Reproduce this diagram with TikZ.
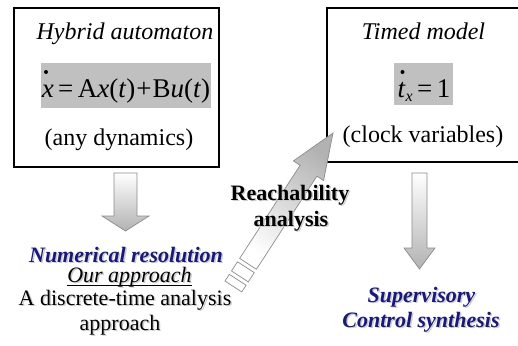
\documentclass[tikz,border=0pt]{standalone}
\usepackage{fontspec}
\setmainfont{Liberation Serif}
\usetikzlibrary{calc}
\definecolor{arrowedge}{RGB}{140,140,140}
\definecolor{navyblue}{RGB}{25,25,125}
\definecolor{shadowgray}{RGB}{205,205,205}
\definecolor{eqgray}{RGB}{192,192,192}
\definecolor{headgray}{RGB}{178,178,178}
\newcommand\shnode[4]{%
  \node[#3, text=shadowgray] (#1-sh) at ($(#2)+(1.5,1.5)$) {#4};
  \node[#3] (#1) at (#2) {#4};}
\begin{document}
\begin{tikzpicture}[x=1pt,y=-1pt,
  box/.style={draw=black, line width=1.2pt, inner sep=0pt},
  eqbg/.style={fill=eqgray, inner sep=0pt},
  big/.style={font=\fontsize{24}{28}\selectfont, inner sep=0pt, anchor=base},
  mid/.style={font=\fontsize{22}{26}\selectfont, inner sep=0pt, anchor=base},
  eqfont/.style={font=\fontsize{27}{30}\selectfont, inner sep=0pt, anchor=base},
  blockarrow/.style={draw=arrowedge, line width=0.7pt, line join=miter},
  dotmark/.style={circle, fill=black, inner sep=0pt, minimum size=4pt}
]
\useasboundingbox (0,0) rectangle (518,345);
\clip (0,0) rectangle (518,345);

% boxes
\node[box, minimum width=205, minimum height=159] (hyb) at (116.5,87.5) {};
\node[box, minimum width=203, minimum height=154] (tim) at (428.5,85) {};

% hybrid box content
\node[big] (hybtitle) at (125,40) {\textit{Hybrid automaton}};
\node[eqbg, minimum width=170, minimum height=45] (hybeqbg) at (126,85.5) {};
\node[eqfont] (hybeq) at (126,97) {\textit{x}\,=\,A\textit{x}(\textit{t})\kern1pt+\kern1ptB\textit{u}(\textit{t})};
\node[dotmark] (hybdot) at (46,72) {};
\node[big] (hybdesc) at (119,145) {(any dynamics)};

% timed box content
\node[big] (timtitle) at (423.5,40) {\textit{Timed model}};
\node[eqbg, minimum width=59, minimum height=42] (timeqbg) at (423.5,84) {};
\node[eqfont] (timeq) at (424,97) {\textit{t}\raisebox{-4pt}{\fontsize{16}{18}\selectfont\textit{x}}\,=\,1};
\node[dotmark] (timdot) at (402.5,72) {};
\node[big] (timdesc) at (423,142) {(clock variables)};

% down arrow left
\path[blockarrow, top color=white, bottom color=headgray]
  (114,173) -- (137,173) -- (137,216) -- (149,216) -- (125.5,231) -- (102,216) -- (114,216) -- cycle;
% down arrow right
\path[blockarrow, top color=white, bottom color=headgray]
  (412,173) -- (427,173) -- (427,248) -- (435,248) -- (419.5,269) -- (404,248) -- (412,248) -- cycle;

% diagonal striped arrow
\begin{scope}[shift={(333,133)}, x={(-0.5446pt,-0.8387pt)}, y={(0.8387pt,-0.5446pt)}]
  \coordinate (diagtip) at (0,0);
  \path[blockarrow, top color=headgray, bottom color=white, shading angle=-33]
    (diagtip) -- (45,-18) -- (45,-10) -- (156,-10) -- (156,10) -- (45,10) -- (45,18) -- cycle;
  \path[blockarrow, fill=white] (160,-10) -- (171,-10) -- (171,10) -- (160,10) -- cycle;
  \path[blockarrow, fill=white] (175,-10) -- (183,-10) -- (183,10) -- (175,10) -- cycle;
\end{scope}

% bottom-left texts
\shnode{numres}{126,262}{mid, text=navyblue}{\textbf{\textit{Numerical resolution}}}
\shnode{ourapp}{129.5,282}{mid}{\textit{Our approach}}
\draw[line width=0.9pt] ($(ourapp.base west)+(0,3.5)$) -- ($(ourapp.base east)+(0,3.5)$);
\shnode{discr}{125,305}{mid}{A discrete-time analysis}
\shnode{appr}{120,330}{mid}{approach}

% reachability
\shnode{reach}{290,200}{mid}{\textbf{Reachability}}
\shnode{anal}{291,226}{mid}{\textbf{analysis}}

% supervisory
\shnode{sup}{421.5,302}{mid, text=navyblue}{\textbf{\textit{Supervisory}}}
\shnode{ctrl}{421,327}{mid, text=navyblue}{\textbf{\textit{Control synthesis}}}
\end{tikzpicture}
\end{document}
